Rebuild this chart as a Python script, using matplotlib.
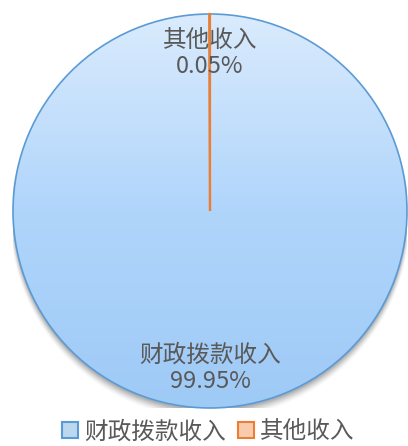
import numpy as np
import matplotlib.pyplot as plt
from matplotlib.colors import LinearSegmentedColormap
from matplotlib.patches import Circle

plt.rcParams['font.family'] = ['Noto Sans CJK SC', 'DejaVu Sans']

categories = ['财政拨款收入', '其他收入']
values = [99.95, 0.05]
pct_labels = ['99.95%', '0.05%']

W, H = 408, 446
fig = plt.figure(figsize=(W / 100, H / 100), dpi=100)
cx, cy, r = 210, 211, 197
ax = fig.add_axes([(cx - r) / W, (H - cy - r) / H, 2 * r / W, 2 * r / H])

# soft shadow below the pie
for i, a in enumerate(np.linspace(0.10, 0.02, 8)):
    ax.add_patch(Circle((0, -0.012 - i * 0.004), 1.0 + i * 0.002, color='#404040',
                        alpha=a, zorder=0, lw=0))

labels = [f'{c}\n{p}' for c, p in zip(categories, pct_labels)]
wedges, texts = ax.pie(values, labels=labels, startangle=90, counterclock=False,
                       colors=['none', 'none'], labeldistance=0.80,
                       wedgeprops=dict(linewidth=1.2),
                       textprops=dict(fontsize=17, color='#595959', ha='center',
                                      va='center', linespacing=1.2))
wedges[0].set_edgecolor('#5B9BD5')
wedges[1].set_edgecolor('#ED7D31')
wedges[1].set_linewidth(1.6)

# gradient fill for the blue slice
cmap = LinearSegmentedColormap.from_list('g', ['#9ECAF6', '#B0D5FB', '#DAEBFD'])
grad = np.linspace(0, 1, 256).reshape(-1, 1)
im = ax.imshow(grad, extent=(-1, 1, -1, 1), origin='lower', cmap=cmap,
               aspect='auto', zorder=1)
im.set_clip_path(wedges[0])
for w in wedges:
    w.set_zorder(2)
for t in texts:
    t.set_zorder(3)

ax.set_xlim(-1, 1)
ax.set_ylim(-1, 1)
ax.axis('off')

# legend
handles = [plt.Line2D([], [], marker='s', linestyle='none', markersize=12,
                      markerfacecolor=fc, markeredgecolor=ec, markeredgewidth=1.5)
           for fc, ec in [('#BDD7EE', '#5B9BD5'), ('#F8CBAD', '#ED7D31')]]
fig.legend(handles, categories, loc='center', bbox_to_anchor=(207 / W, 1 - 432 / H),
           ncol=2, frameon=False, fontsize=17, labelcolor='#595959',
           handletextpad=0.15, columnspacing=0.4, handlelength=0.9)

fig.savefig('out.png', dpi=100)
